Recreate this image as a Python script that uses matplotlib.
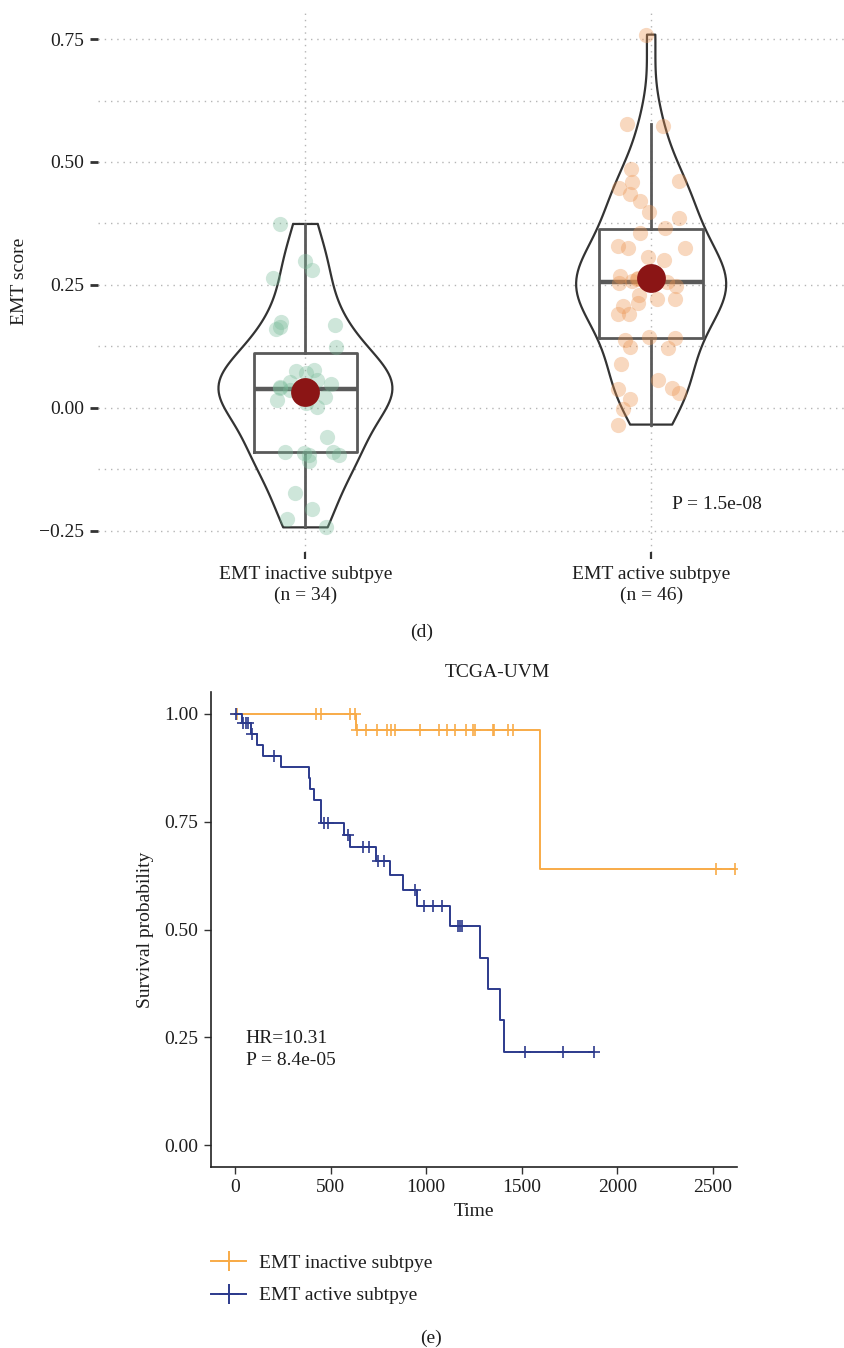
import numpy as np
import matplotlib
matplotlib.use("Agg")
import matplotlib.pyplot as plt
from matplotlib.lines import Line2D

plt.rcParams['font.family'] = ['Liberation Serif', 'DejaVu Serif']

W, H = 844, 1348
TXT = '#1e1e1e'

# ---- panel (d): EMT score per subtype ----
groups = ['EMT inactive subtpye', 'EMT active subtpye']
group_n = [34, 46]
emt_inactive = [0.374, 0.298, 0.281, 0.265, 0.174, 0.168, 0.160, 0.164, 0.123,
                0.077, 0.074, 0.071, 0.057, 0.036, 0.043, 0.022, 0.002, 0.010,
                -0.059, -0.095, -0.095, -0.089, -0.109, -0.091, -0.174, -0.206,
                -0.227, -0.243, 0.048, 0.040, 0.030, 0.052, 0.015, -0.090]
emt_active = [0.759, 0.577, 0.573, 0.486, 0.462, 0.460, 0.447, 0.435, 0.421,
              0.399, 0.386, 0.366, 0.356, 0.330, 0.326, 0.326, 0.306, 0.300,
              0.268, 0.253, 0.222, 0.222, 0.214, 0.229, 0.207, 0.190, 0.190,
              0.142, 0.144, 0.138, 0.122, 0.124, 0.089, 0.057, 0.030, 0.038,
              0.041, 0.018, -0.002, -0.034, 0.262, 0.255, 0.270, 0.248, 0.258,
              0.265]
p_box = 'P = 1.5e-08'

# ---- panel (e): Kaplan-Meier, TCGA-UVM ----
inact_event_t = [633, 1594]
inact_surv = [0.961, 0.641]
inact_censor_t = [10, 426, 452, 600, 628, 638, 684, 743, 795, 818, 835, 966,
                  1065, 1110, 1153, 1209, 1244, 1253, 1348, 1357, 1426, 1456,
                  2514, 2616]
act_event_t = [35, 82, 113, 148, 240, 388, 395, 412, 452, 571, 604, 737, 813,
               881, 952, 1122, 1279, 1322, 1387, 1405]
act_surv = [0.978, 0.952, 0.927, 0.902, 0.876, 0.851, 0.826, 0.799, 0.747,
            0.720, 0.691, 0.659, 0.626, 0.592, 0.554, 0.508, 0.435, 0.362,
            0.290, 0.217]
act_censor_t = [5, 43, 56, 70, 87, 204, 466, 487, 591, 670, 701, 746, 779, 944,
                990, 1035, 1083, 1166, 1177, 1185, 1518, 1714, 1877]
hr_text = 'HR=10.31'
p_km = 'P = 8.4e-05'


def nrd0(kde):
    x = kde.dataset.ravel()
    sd = x.std(ddof=1)
    iqr = np.subtract(*np.percentile(x, [75, 25]))
    return 0.9 * min(sd, iqr / 1.34) * len(x) ** -0.2 / sd


def level_at(t_ev, s_ev, t):
    s = np.concatenate([[1.0], s_ev])
    return s[np.searchsorted(t_ev, t, side='right')]


fig = plt.figure(figsize=(W / 100, H / 100), dpi=100)

# ---------------- top panel ----------------
ax1 = fig.add_axes([98 / W, 1 - 552 / H, (858.6 - 98) / W, 542 / H])
data = [np.array(emt_inactive), np.array(emt_active)]
allv = np.concatenate(data)
span = allv.max() - allv.min()
ax1.set_ylim(allv.min() - 0.05 * span, allv.max() + 0.05 * span)
ax1.set_xlim(0.4, 2.6)

vp = ax1.violinplot(data, positions=[1, 2], widths=[0.503, 0.434],
                    showextrema=False, bw_method=nrd0)
for body in vp['bodies']:
    body.set_facecolor('none')
    body.set_edgecolor('#333333')
    body.set_linewidth(1.6)
    body.set_alpha(1)
    body.set_zorder(2)

ax1.boxplot(data, positions=[1, 2], widths=0.3, showfliers=False,
            showcaps=False, whis=1.5, manage_ticks=False,
            boxprops=dict(color='#595959', lw=2),
            whiskerprops=dict(color='#595959', lw=2),
            medianprops=dict(color='#595959', lw=3.2), zorder=3)

rng = np.random.default_rng(11)
pt_cols = ['#78bb99', '#ec9450']
for i, d in enumerate(data):
    jit = rng.uniform(-0.1, 0.1, len(d))
    ax1.scatter(i + 1 + jit, d, s=120, color=pt_cols[i], alpha=0.36, lw=0,
                zorder=4)
ax1.scatter([1, 2], [d.mean() for d in data], s=430, color='#8b1515', lw=0,
            zorder=5)

ax1.text(2.06, -0.196, p_box, ha='left', va='center', fontsize=14, color=TXT)

ax1.set_yticks([-0.25, 0, 0.25, 0.5, 0.75],
               labels=['\u22120.25', '0.00', '0.25', '0.50', '0.75'])
ax1.set_yticks([-0.125, 0.125, 0.375, 0.625], minor=True)
ax1.set_xticks([1, 2], labels=[f'{g}\n(n = {n})' for g, n in zip(groups, group_n)])
for lab in ax1.get_xticklabels():
    lab.set_linespacing(1.3)
ax1.tick_params(axis='y', which='major', length=6, width=2, color='#333333',
                labelsize=14, labelcolor=TXT, pad=4)
ax1.tick_params(axis='y', which='minor', length=0)
ax1.tick_params(axis='x', length=5, width=1.6, color='#333333',
                labelsize=14, labelcolor=TXT, pad=5)
grid_kw = dict(color='#b5b5b5', lw=1.0, ls=(0, (1, 3.5)))
ax1.grid(axis='y', which='both', **grid_kw)
ax1.grid(axis='x', which='major', **grid_kw)
ax1.set_axisbelow(True)
for s in ax1.spines.values():
    s.set_visible(False)
ax1.set_ylabel('EMT score', fontsize=14, color=TXT)
ax1.yaxis.set_label_coords(-0.092, 0.5)

fig.text(422 / W, 1 - 632 / H, '(d)', ha='center', va='center', fontsize=14,
         color=TXT)

# ---------------- bottom panel ----------------
ax2 = fig.add_axes([211 / W, 1 - 1167 / H, 526 / W, 475 / H])
km_cols = ['#f8ab48', '#2c3a8c']
curves = [(inact_event_t, inact_surv, inact_censor_t),
          (act_event_t, act_surv, act_censor_t)]
for (tev, sev, tc), col, lab in zip(curves, km_cols, groups):
    tev = np.array(tev, float)
    sev = np.array(sev, float)
    tc = np.array(tc, float)
    t_end = max(tc.max(), tev.max())
    xs = np.concatenate([[0], tev, [t_end]])
    ys = np.concatenate([[1.0], sev, [sev[-1]]])
    ax2.step(xs, ys, where='post', color=col, lw=1.4)
    ax2.plot(tc, level_at(tev, sev, tc), ls='none', marker='+', ms=9,
             mew=1.2, color=col)

ax2.set_xlim(-125, 2625)
ax2.set_ylim(-0.05, 1.05)
ax2.set_xticks([0, 500, 1000, 1500, 2000, 2500])
ax2.set_yticks([0, 0.25, 0.5, 0.75, 1.0],
               labels=['0.00', '0.25', '0.50', '0.75', '1.00'])
ax2.tick_params(length=5, width=1, color='#333333', labelsize=14,
                labelcolor=TXT, pad=4)
for s in ['top', 'right']:
    ax2.spines[s].set_visible(False)
for s in ['left', 'bottom']:
    ax2.spines[s].set_linewidth(1.2)
    ax2.spines[s].set_color('#222222')

ax2.text(57, 0.2465, hr_text, ha='left', va='center', fontsize=14, color=TXT)
ax2.text(57, 0.196, p_km, ha='left', va='center', fontsize=14, color=TXT)

ax2.set_xlabel('Time', fontsize=14, color=TXT)
ax2.xaxis.set_label_coords(0.5, -0.075)
ax2.set_ylabel('Survival probability', fontsize=14, color=TXT)
ax2.yaxis.set_label_coords(-0.108, 0.5)

fig.text(497 / W, 1 - 673 / H, 'TCGA-UVM', ha='center', va='center',
         fontsize=14, color=TXT)

handles = [Line2D([], [], color=c, lw=1.4, marker='+', ms=14, mew=1.4)
           for c in km_cols]
fig.legend(handles, groups, loc='center left',
           bbox_to_anchor=(211 / W, 1 - 1279.5 / H), frameon=False,
           fontsize=14, handlelength=1.8, handletextpad=0.65,
           labelspacing=0.75, borderpad=0, borderaxespad=0,
           labelcolor=TXT)

fig.text(431 / W, 1 - 1338 / H, '(e)', ha='center', va='center', fontsize=14,
         color=TXT)

fig.savefig('out.png', dpi=100, facecolor='white')
